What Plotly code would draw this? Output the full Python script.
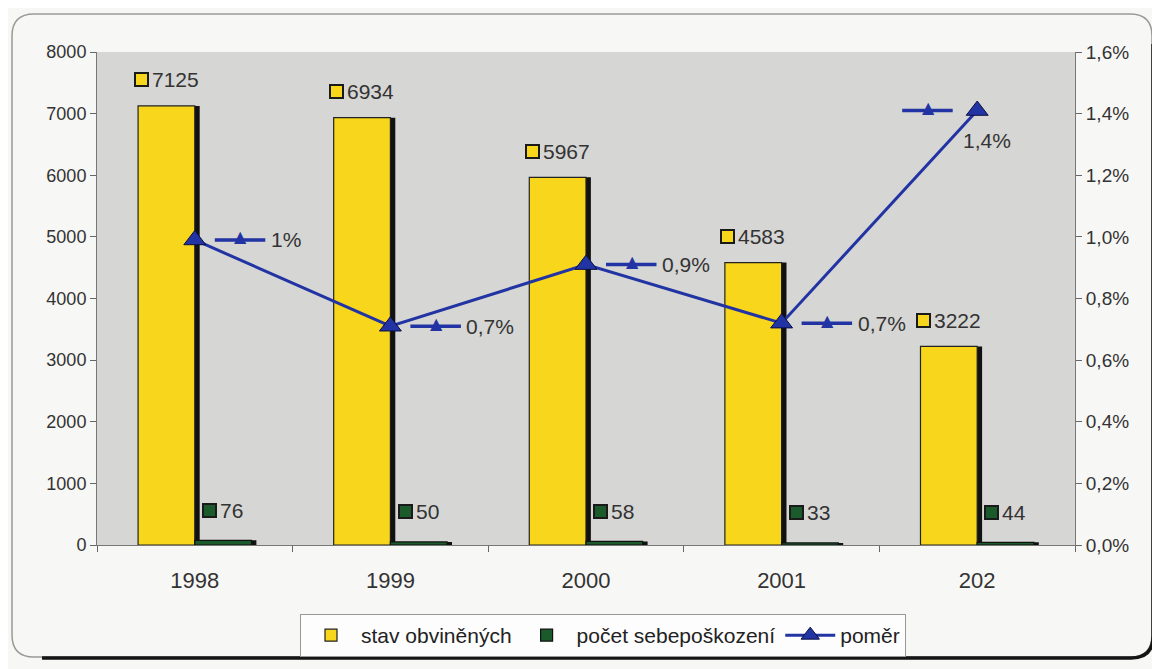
import plotly.graph_objects as go

years = ['1998', '1999', '2000', '2001', '202']
stav_obvinenych = [7125, 6934, 5967, 4583, 3222]
pocet_sebeposkozeni = [76, 50, 58, 33, 44]
pomer = [0.0099, 0.0071, 0.0091, 0.0072, 0.0141]
pomer_labels = ['1%', '0,7%', '0,9%', '0,7%', '1,4%']

YELLOW = '#f7d61c'
GREEN = '#1b5a2b'
BLUE = '#2234a3'
TEXT = '#333333'
FONT = 'Liberation Sans, Arial, sans-serif'

# the page body keeps an 8px margin, so the figure is drawn 8px smaller
PAGE = 8
W, H = 1160 - PAGE, 669 - PAGE
L, R, T, B = 97 - PAGE, 85, 52 - PAGE, 124
PW, PH = W - L - R, H - T - B

BAR_W = 0.29
SHADOW = 0.025

x = list(range(len(years)))


def px(xp, yp):
    # window pixel position -> paper coordinates
    return (xp - PAGE - L) / PW, (H - B - (yp - PAGE)) / PH


def build(pts):
    out = []
    for p in pts:
        cmd, coords = p[0], p[1:]
        vals = []
        for k in range(0, len(coords), 2):
            a, b = px(coords[k], coords[k + 1])
            vals.append('{:.4f},{:.4f}'.format(a, b))
        out.append(cmd + ' '.join(vals))
    return ' '.join(out)


def frame_path():
    r = 22
    x0, y0, x1, y1 = 12, 14, 1152, 657
    return build([('M', x0 + r, y0), ('L', x1 - r, y0), ('Q', x1, y0, x1, y0 + r),
                  ('L', x1, y1 - r), ('Q', x1, y1, x1 - r, y1), ('L', x0 + r, y1),
                  ('Q', x0, y1, x0, y1 - r), ('L', x0, y0 + r), ('Q', x0, y0, x0 + r, y0)])


def shadow_path():
    r = 22
    x0, y0, x1, y1 = 12, 14, 1153, 658
    return build([('M', x1, y0 + 30), ('L', x1, y1 - r), ('Q', x1, y1, x1 - r, y1),
                  ('L', x0 + 30, y1)])


fig = go.Figure()

# shadows behind bars
fig.add_trace(go.Bar(x=x, y=stav_obvinenych, offset=-BAR_W + SHADOW, width=BAR_W,
                     marker=dict(color='#111111', line=dict(width=0)),
                     showlegend=False, hoverinfo='skip'))
fig.add_trace(go.Bar(x=x, y=pocet_sebeposkozeni, offset=SHADOW, width=BAR_W,
                     marker=dict(color='#111111', line=dict(width=0)),
                     showlegend=False, hoverinfo='skip'))

fig.add_trace(go.Bar(x=x, y=stav_obvinenych, offset=-BAR_W, width=BAR_W,
                     name='stav obviněných',
                     marker=dict(color=YELLOW, line=dict(color='#222222', width=1.2))))
fig.add_trace(go.Bar(x=x, y=pocet_sebeposkozeni, offset=0, width=BAR_W,
                     name='počet sebepoškození',
                     marker=dict(color=GREEN, line=dict(color='#111111', width=1.2))))
fig.add_trace(go.Scatter(x=x, y=pomer, yaxis='y2', name='poměr',
                         mode='lines+markers',
                         line=dict(color=BLUE, width=3),
                         marker=dict(symbol='triangle-up', size=19, color=BLUE,
                                     line=dict(color='#0a0f40', width=1))))

annotations = []


def key_box(xv, yv, color, shift_x, shift_y):
    return dict(x=xv, y=yv, xref='x', yref='y', text=' ', showarrow=False,
                xanchor='left', yanchor='middle', xshift=shift_x, yshift=shift_y,
                width=11, height=11, bgcolor=color, bordercolor='#1a1a1a',
                borderwidth=2, borderpad=0, font=dict(size=4))


def value_label(xv, yv, val, color, shift_y):
    tw = 11.7 * len(str(val))
    total = 13 + 6 + tw
    start = -total / 2
    annotations.append(key_box(xv, yv, color, start, shift_y))
    annotations.append(dict(x=xv, y=yv, xref='x', yref='y', text=str(val),
                            showarrow=False, xanchor='left', yanchor='middle',
                            xshift=start + 16, yshift=shift_y,
                            font=dict(size=21, color=TEXT, family=FONT)))


def line_key(i, shift_x):
    # short blue segment with a triangle in the middle, like the legend key
    annotations.append(dict(x=i, y=pomer[i], xref='x', yref='y2', text='',
                            showarrow=True, arrowhead=0, arrowwidth=3.5,
                            arrowcolor=BLUE, ax=52, ay=0, standoff=0,
                            startstandoff=0, xshift=shift_x))
    annotations.append(dict(x=i, y=pomer[i], xref='x', yref='y2', text='▲',
                            showarrow=False, xanchor='center', yanchor='middle',
                            xshift=shift_x + 26, yshift=3,
                            font=dict(size=16, color=BLUE, family='DejaVu Sans')))


for i in x:
    value_label(i - BAR_W / 2, stav_obvinenych[i], stav_obvinenych[i], YELLOW, 26)
    value_label(i + BAR_W / 2, pocet_sebeposkozeni[i], pocet_sebeposkozeni[i], GREEN, 30)

for i in x:
    if i < len(x) - 1:
        line_key(i, 20)
        annotations.append(dict(x=i, y=pomer[i], xref='x', yref='y2', text=pomer_labels[i],
                                showarrow=False, xanchor='left', yanchor='middle',
                                xshift=74, yshift=0,
                                font=dict(size=21, color=TEXT, family=FONT)))
    else:
        line_key(i, -75)
        annotations.append(dict(x=i, y=pomer[i], xref='x', yref='y2', text=pomer_labels[i],
                                showarrow=False, xanchor='center', yanchor='top',
                                xshift=10, yshift=-16,
                                font=dict(size=21, color=TEXT, family=FONT)))

fig.update_layout(
    width=W, height=H,
    margin=dict(l=L, r=R, t=T, b=B, pad=0, autoexpand=False),
    paper_bgcolor='#f7f7f5',
    plot_bgcolor='#d6d6d4',
    separators=', ',
    barmode='overlay',
    font=dict(family=FONT, color=TEXT, size=18),
    xaxis=dict(tickvals=x, ticktext=years, range=[-0.5, len(x) - 0.5],
               showgrid=False, zeroline=False, showline=True, linecolor='#777777',
               ticks='', tickfont=dict(size=22), ticklabelstandoff=16,
               minor=dict(tickvals=[i - 0.5 for i in range(len(x) + 1)],
                          ticks='outside', ticklen=6, tickcolor='#666666')),
    yaxis=dict(range=[0, 8000], dtick=1000, tickformat='d', showgrid=False,
               zeroline=False, showline=True, linecolor='#777777', mirror=True,
               ticks='outside', ticklen=6, tickcolor='#666666',
               tickfont=dict(size=18)),
    yaxis2=dict(overlaying='y', side='right', range=[0, 0.016], dtick=0.002,
                tickformat='.1%', showgrid=False, zeroline=False, showline=True,
                linecolor='#777777', ticks='outside', ticklen=6, tickcolor='#666666',
                tickfont=dict(size=19)),
    legend=dict(orientation='h', x=px(603, 0)[0], xanchor='center',
                y=px(0, 614)[1], yanchor='top', bgcolor='#fdfdfd',
                bordercolor='#999999', borderwidth=1,
                font=dict(size=21, color='#222222'), itemwidth=50,
                tracegroupgap=0, traceorder='normal'),
    annotations=annotations,
    shapes=[dict(type='path', xref='paper', yref='paper', path=frame_path(),
                 line=dict(color='#9a9a9a', width=1.5), layer='below'),
            dict(type='path', xref='paper', yref='paper', path=shadow_path(),
                 line=dict(color='#151515', width=3.5), layer='below')],
)

fig.write_html('out.html')
